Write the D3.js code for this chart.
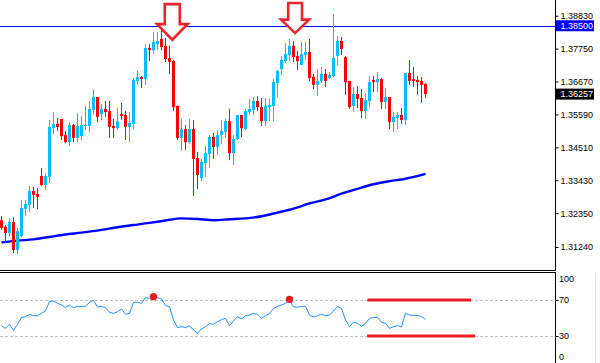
<!DOCTYPE html>
<html>
<head>
<meta charset="UTF-8">
<title>Candles + RSI</title>
<script src="https://d3js.org/d3.v7.min.js"></script>
<style>
  body { margin: 0; background: #fff; }
  svg { display: block; font-family: 'Liberation Sans', Arial, sans-serif; }
</style>
</head>
<body>
<svg id="chart" width="600" height="363"></svg>
<script>
// candle data (oldest -> newest)
const opens = [1.3212,1.3190,1.3170,1.3206,1.3114,1.3160,1.3249,1.3262,1.3308,1.3298,
  1.3357,1.3327,1.3354,1.3514,1.3528,1.3544,1.3491,1.3468,1.3524,1.3482,
  1.3488,1.3521,1.3521,1.3574,1.3616,1.3560,1.3577,1.3570,1.3521,1.3514,
  1.3560,1.3557,1.3518,1.3528,1.3669,1.3682,1.3675,1.3777,1.3770,1.3790,
  1.3807,1.3784,1.3744,1.3734,1.3587,1.3482,1.3511,1.3468,1.3511,1.3416,
  1.3350,1.3400,1.3429,1.3485,1.3452,1.3491,1.3501,1.3537,1.3432,1.3478,
  1.3557,1.3511,1.3567,1.3574,1.3603,1.3583,1.3537,1.3583,1.3587,1.3662,
  1.3708,1.3734,1.3754,1.3784,1.3751,1.3721,1.3754,1.3764,1.3682,1.3656,
  1.3669,1.3692,1.3679,1.3685,1.3751,1.3800,1.3747,1.3669,1.3587,1.3626,
  1.3613,1.3570,1.3603,1.3672,1.3665,1.3675,1.3600,1.3616,1.3534,1.3547,
  1.3557,1.3541,1.3695,1.3675,1.3672,1.3669,1.3659];
const highs = [1.3226,1.3196,1.3219,1.3222,1.3186,1.3278,1.3278,1.3324,1.3321,1.3317,
  1.3383,1.3367,1.3541,1.3567,1.3547,1.3544,1.3505,1.3534,1.3528,1.3564,
  1.3554,1.3587,1.3603,1.3642,1.3616,1.3593,1.3603,1.3603,1.3544,1.3580,
  1.3597,1.3570,1.3567,1.3679,1.3702,1.3685,1.3790,1.3790,1.3829,1.3829,
  1.3843,1.3810,1.3784,1.3738,1.3587,1.3544,1.3524,1.3544,1.3541,1.3436,
  1.3413,1.3455,1.3491,1.3498,1.3505,1.3541,1.3544,1.3577,1.3491,1.3557,
  1.3557,1.3577,1.3610,1.3616,1.3619,1.3613,1.3613,1.3610,1.3675,1.3705,
  1.3751,1.3793,1.3807,1.3800,1.3767,1.3797,1.3797,1.3807,1.3692,1.3708,
  1.3715,1.3708,1.3698,1.3889,1.3816,1.3813,1.3751,1.3669,1.3649,1.3652,
  1.3642,1.3629,1.3685,1.3685,1.3698,1.3679,1.3646,1.3616,1.3567,1.3567,
  1.3580,1.3695,1.3738,1.3715,1.3685,1.3682,1.3662];
const lows = [1.3180,1.3137,1.3157,1.3104,1.3101,1.3157,1.3226,1.3239,1.3252,1.3249,
  1.3324,1.3311,1.3334,1.3495,1.3505,1.3475,1.3465,1.3455,1.3468,1.3468,
  1.3475,1.3508,1.3501,1.3557,1.3534,1.3541,1.3551,1.3482,1.3482,1.3508,
  1.3541,1.3475,1.3468,1.3511,1.3656,1.3646,1.3656,1.3734,1.3757,1.3770,
  1.3770,1.3731,1.3692,1.3570,1.3475,1.3439,1.3442,1.3462,1.3291,1.3314,
  1.3340,1.3354,1.3383,1.3413,1.3426,1.3462,1.3482,1.3409,1.3393,1.3475,
  1.3485,1.3508,1.3557,1.3557,1.3570,1.3521,1.3521,1.3537,1.3537,1.3616,
  1.3688,1.3728,1.3734,1.3731,1.3705,1.3721,1.3738,1.3669,1.3642,1.3619,
  1.3662,1.3649,1.3675,1.3682,1.3721,1.3754,1.3623,1.3577,1.3567,1.3580,
  1.3547,1.3544,1.3580,1.3633,1.3633,1.3577,1.3577,1.3511,1.3501,1.3511,
  1.3528,1.3524,1.3656,1.3649,1.3623,1.3597,1.3613];
const closes = [1.3186,1.3170,1.3206,1.3114,1.3176,1.3252,1.3265,1.3308,1.3295,1.3288,
  1.3327,1.3357,1.3518,1.3528,1.3518,1.3488,1.3468,1.3524,1.3482,1.3521,
  1.3524,1.3524,1.3577,1.3616,1.3551,1.3577,1.3567,1.3518,1.3514,1.3537,
  1.3554,1.3518,1.3531,1.3672,1.3682,1.3675,1.3777,1.3770,1.3797,1.3800,
  1.3780,1.3741,1.3731,1.3583,1.3482,1.3511,1.3468,1.3511,1.3413,1.3360,
  1.3403,1.3432,1.3485,1.3452,1.3491,1.3505,1.3537,1.3432,1.3478,1.3557,
  1.3514,1.3570,1.3577,1.3603,1.3583,1.3537,1.3587,1.3590,1.3665,1.3702,
  1.3738,1.3757,1.3784,1.3747,1.3734,1.3757,1.3764,1.3679,1.3656,1.3669,
  1.3692,1.3669,1.3688,1.3744,1.3800,1.3774,1.3665,1.3583,1.3626,1.3610,
  1.3570,1.3606,1.3665,1.3665,1.3675,1.3600,1.3616,1.3534,1.3551,1.3557,
  1.3541,1.3695,1.3669,1.3669,1.3665,1.3656,1.36257];

// moving average, read at some candles
const maIdx = [0,4,8,12,16,20,25,29,33,37,41,45,49,53,57,61,65,69,73,77,81,85,89,93,97,101,106];
const maVal = [1.3139,1.3145,1.3149,1.3157,1.3165,1.3171,1.3180,1.3189,1.3196,1.3203,
  1.3211,1.3218,1.3216,1.3212,1.3215,1.3218,1.3225,1.3237,1.3250,1.3267,
  1.3280,1.3299,1.3315,1.3330,1.3340,1.3348,1.3364];

// RSI, one per candle
const rsi = [41.5,38.5,43.0,36.3,43.0,50.4,51.5,54.1,52.6,52.6,
  55.2,57.8,68.2,68.9,66.3,64.5,61.5,64.5,61.5,63.0,
  63.0,63.0,67.4,69.6,62.2,63.0,61.5,56.3,55.2,57.0,
  60.0,54.1,55.2,67.4,67.4,66.3,72.6,71.9,73.7,72.6,
  71.1,63.7,62.6,47.8,39.3,40.4,39.3,41.5,36.7,33.0,
  37.8,40.4,43.7,43.0,45.9,48.1,49.6,41.5,46.7,51.5,
  48.9,52.6,53.3,55.2,54.1,49.6,52.6,54.8,60.7,63.0,
  64.5,66.3,69.5,62.6,61.9,63.0,63.0,53.3,51.1,52.6,
  54.1,52.6,53.3,57.8,62.6,60.7,47.8,40.4,45.2,44.1,
  40.7,44.1,49.6,50.7,50.7,45.2,44.1,38.5,40.4,41.5,
  40.0,55.2,53.3,52.9,52.9,51.5,48.5];

const priceTicks = [1.31240,1.32350,1.33430,1.34510,1.35590,1.36670,1.37750,1.38830];
const rsiTicks = [100, 70, 30, 0];
const rsiLevels = [70, 30];
const levelPrice = 1.38500;

// annotations
const arrowIdx = [42.7, 73.4];
const arrowPrice = [1.3804, 1.3826];
const peakIdx = [38, 72];
const peakRsi = [73.7, 70.7];
const markStart = [91.5, 91.4];
const markEnd = [117.4, 118.4];
const markLevel = [70, 30];

const svg = d3.select('#chart');
const axisX = 555.5;
const BLUE = '#00bfff', RED = '#ff0000';

const x = d3.scaleLinear().domain([0, closes.length - 1]).range([1.5, 425.5]);
const y = d3.scaleLinear().domain([1.3124, 1.3883]).range([247, 15.7]);
const yR = d3.scaleLinear().domain([0, 100]).range([363, 273]);

svg.append('clipPath').attr('id', 'mainClip')
  .append('rect').attr('x', 0).attr('y', 0).attr('width', axisX).attr('height', 270);
svg.append('clipPath').attr('id', 'rsiClip')
  .append('rect').attr('x', 0).attr('y', 273).attr('width', axisX).attr('height', 90);

const main = svg.append('g').attr('clip-path', 'url(#mainClip)');

// moving average
main.append('path')
  .datum(maIdx.map((d, i) => [d, maVal[i]]))
  .attr('fill', 'none').attr('stroke', '#0000ff').attr('stroke-width', 2.4)
  .attr('d', d3.line().x(d => x(d[0])).y(d => y(d[1])).curve(d3.curveMonotoneX));

// horizontal level
main.append('line')
  .attr('x1', 0).attr('x2', axisX)
  .attr('y1', Math.round(y(levelPrice)) + 0.5).attr('y2', Math.round(y(levelPrice)) + 0.5)
  .attr('stroke', '#0000ff').attr('stroke-width', 1);

// candles
const candles = closes.map((c, i) => ({ i, o: opens[i], h: highs[i], l: lows[i], c }));
const cg = main.selectAll('g.candle').data(candles).enter().append('g')
  .attr('fill', d => d.c >= d.o ? BLUE : RED);
cg.append('rect')
  .attr('x', d => x(d.i) - 0.5).attr('width', 1)
  .attr('y', d => y(d.h)).attr('height', d => y(d.l) - y(d.h));
cg.append('rect')
  .attr('x', d => x(d.i) - 1.5).attr('width', 3)
  .attr('y', d => y(Math.max(d.o, d.c)))
  .attr('height', d => Math.max(1, Math.abs(y(d.o) - y(d.c))));

// down arrows
const arrowShape = [
  { hw: 15.3, hh: 15.7, sw: 7.5, len: 35.7 },
  { hw: 14.0, hh: 13.4, sw: 6.9, len: 30 }
];
arrowIdx.forEach((a, k) => {
  const tx = x(a), ty = y(arrowPrice[k]);
  const s = arrowShape[k];
  const pts = [
    [tx - s.sw, ty - s.len], [tx + s.sw, ty - s.len], [tx + s.sw, ty - s.hh],
    [tx + s.hw, ty - s.hh], [tx, ty], [tx - s.hw, ty - s.hh], [tx - s.sw, ty - s.hh]
  ];
  main.append('path')
    .attr('d', d3.line()(pts) + 'Z')
    .attr('fill', '#fff').attr('stroke', '#e5262c')
    .attr('stroke-width', 2.6).attr('stroke-linejoin', 'miter');
});

// price axis
svg.append('line').attr('x1', 0).attr('x2', axisX).attr('y1', 270.5).attr('y2', 270.5)
  .attr('stroke', '#000');
svg.append('line').attr('x1', axisX).attr('x2', axisX).attr('y1', 0).attr('y2', 270.5)
  .attr('stroke', '#000');

const yAxis = svg.append('g').attr('transform', `translate(${axisX},0)`)
  .call(d3.axisRight(y).tickValues(priceTicks).tickFormat(d3.format('.5f'))
    .tickSize(3).tickPadding(2));
yAxis.select('.domain').remove();
yAxis.selectAll('text').attr('font-size', 9).attr('font-family', "'Liberation Sans', Arial, sans-serif")
  .attr('fill', '#000');
yAxis.selectAll('line').attr('stroke', '#000');

function priceBox(p, bg) {
  const cy = y(p);
  svg.append('rect').attr('x', 556).attr('y', cy - 5.5).attr('width', 38).attr('height', 11)
    .attr('fill', bg);
  svg.append('text').attr('x', 560.5).attr('y', cy).attr('dy', '0.35em')
    .attr('font-size', 9).attr('fill', '#fff').text(d3.format('.5f')(p));
}
priceBox(levelPrice, '#0000ff');
priceBox(closes[closes.length - 1], '#000');

// RSI panel
svg.append('line').attr('x1', 0).attr('x2', axisX + 0.5).attr('y1', 272.5).attr('y2', 272.5)
  .attr('stroke', '#000');
svg.append('line').attr('x1', axisX).attr('x2', axisX).attr('y1', 272.5).attr('y2', 363)
  .attr('stroke', '#000');
svg.append('line').attr('x1', 595.5).attr('x2', 595.5).attr('y1', 273).attr('y2', 363)
  .attr('stroke', '#e3e3e3');

svg.selectAll('line.lvl').data(rsiLevels).enter().append('line')
  .attr('x1', 0).attr('x2', axisX)
  .attr('y1', d => Math.round(yR(d)) + 0.5).attr('y2', d => Math.round(yR(d)) + 0.5)
  .attr('stroke', '#c0c0c0').attr('stroke-dasharray', '3,2');
svg.selectAll('line.lvlTick').data(rsiLevels).enter().append('line')
  .attr('x1', axisX).attr('x2', axisX + 3)
  .attr('y1', d => Math.round(yR(d)) + 0.5).attr('y2', d => Math.round(yR(d)) + 0.5)
  .attr('stroke', '#000');
svg.selectAll('text.rsiLab').data(rsiTicks).enter().append('text')
  .attr('x', 559).attr('y', d => Math.min(Math.max(yR(d), yR(100) + 6), yR(0) - 6))
  .attr('dy', '0.35em').attr('font-size', 9).attr('fill', '#000')
  .text(d => d);

const rg = svg.append('g').attr('clip-path', 'url(#rsiClip)');
rg.append('path').datum(rsi)
  .attr('fill', 'none').attr('stroke', '#1e90ff').attr('stroke-width', 1)
  .attr('d', d3.line().x((d, i) => x(i)).y(d => yR(d)));

rg.selectAll('line.mark').data(markLevel).enter().append('line')
  .attr('x1', (d, i) => x(markStart[i])).attr('x2', (d, i) => x(markEnd[i]))
  .attr('y1', d => yR(d)).attr('y2', d => yR(d))
  .attr('stroke', '#ed1c24').attr('stroke-width', 3.2);

rg.selectAll('circle').data(peakIdx).enter().append('circle')
  .attr('cx', d => x(d)).attr('cy', (d, i) => yR(peakRsi[i])).attr('r', 3.7)
  .attr('fill', '#ed1c24');
</script>
</body>
</html>
